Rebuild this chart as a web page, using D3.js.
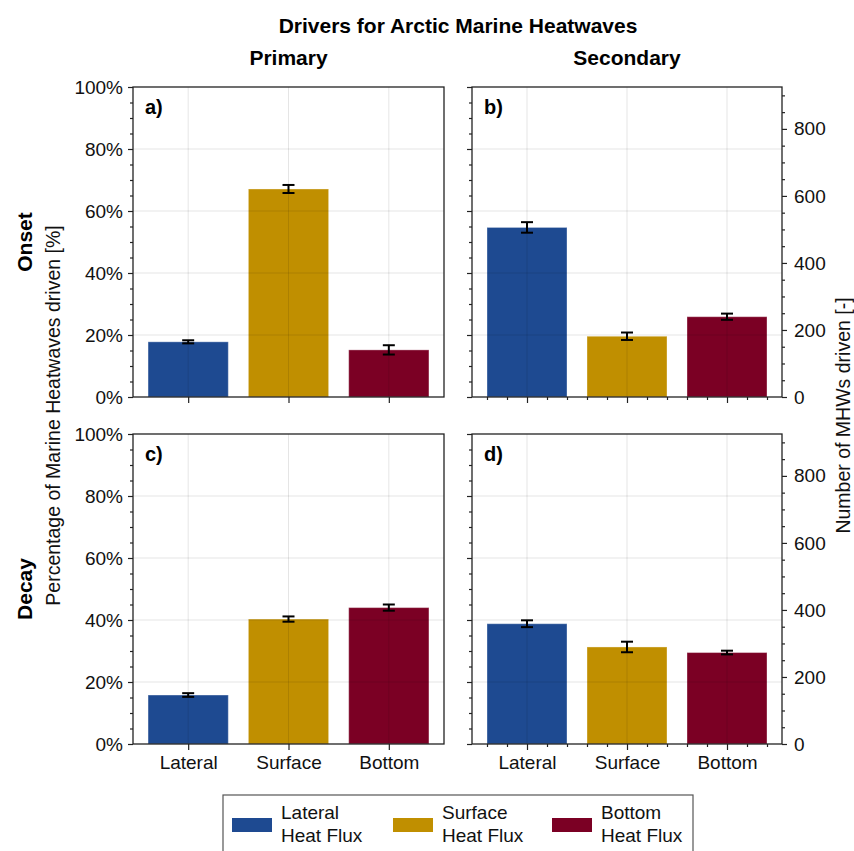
<!DOCTYPE html>
<html>
<head>
<meta charset="utf-8">
<script src="https://cdn.jsdelivr.net/npm/d3@7"></script>
<style>
  body { margin: 0; background: #fff; }
  svg { font-family: "Liberation Sans", Arial, Helvetica, sans-serif; }
  .tick text { font-size: 19px; fill: #111; font-family: "Liberation Sans", Arial, Helvetica, sans-serif; }
  .domain { display: none; }
</style>
</head>
<body>
<svg id="chart" width="854" height="851"></svg>
<script>
// values (percent of MHWs)
const categories = ["Lateral", "Surface", "Bottom"];
const legendLabels = [["Lateral", "Heat Flux"], ["Surface", "Heat Flux"], ["Bottom", "Heat Flux"]];
const colors = ["#1e4a91", "#c08f00", "#7b0024"];

const onsetPrimary = [17.8, 67.1, 15.2];
const onsetPrimaryErr = [0.5, 1.3, 1.5];
const onsetSecondary = [54.7, 19.6, 25.9];
const onsetSecondaryErr = [1.7, 1.2, 1.0];
const decayPrimary = [15.8, 40.3, 44.0];
const decayPrimaryErr = [0.6, 0.85, 1.0];
const decaySecondary = [38.8, 31.3, 29.5];
const decaySecondaryErr = [1.1, 1.7, 0.6];

const totalMHWs = 925;            // 100% on the right axis
const pctTicks = [0, 20, 40, 60, 80, 100];
const countTicks = [0, 200, 400, 600, 800];

const svg = d3.select('#chart');

const cols = [{x0: 133, x1: 444}, {x0: 472, x1: 782}];
const rows = [{y0: 87, y1: 397}, {y0: 434, y1: 744}];

const panels = [
  {label: 'a)', col: 0, row: 0, values: onsetPrimary, err: onsetPrimaryErr},
  {label: 'b)', col: 1, row: 0, values: onsetSecondary, err: onsetSecondaryErr},
  {label: 'c)', col: 0, row: 1, values: decayPrimary, err: decayPrimaryErr},
  {label: 'd)', col: 1, row: 1, values: decaySecondary, err: decaySecondaryErr}
];

panels.forEach(p => {
  const c = cols[p.col], r = rows[p.row];
  const xScale = d3.scaleLinear().domain([-0.55, 2.55]).range([c.x0, c.x1]);
  const yScale = d3.scaleLinear().domain([0, 100]).range([r.y1, r.y0]);
  const nScale = d3.scaleLinear().domain([0, totalMHWs]).range([r.y1, r.y0]);
  const g = svg.append('g');

  // bars
  g.selectAll('rect.bar')
    .data(p.values)
    .enter().append('rect')
      .attr('class', 'bar')
      .attr('x', (d, i) => xScale(i - 0.4))
      .attr('width', (d, i) => xScale(i + 0.4) - xScale(i - 0.4))
      .attr('y', d => yScale(d))
      .attr('height', d => yScale(0) - yScale(d))
      .attr('fill', (d, i) => colors[i])
      .attr('stroke', 'rgba(255,255,255,0.35)')
      .attr('stroke-width', 1);

  // grid on top
  g.selectAll('line.hgrid')
    .data(pctTicks.slice(1, -1))
    .enter().append('line')
      .attr('x1', c.x0).attr('x2', c.x1)
      .attr('y1', d => yScale(d)).attr('y2', d => yScale(d))
      .attr('stroke', 'rgba(0,0,0,0.1)');
  g.selectAll('line.vgrid')
    .data(categories)
    .enter().append('line')
      .attr('x1', (d, i) => xScale(i)).attr('x2', (d, i) => xScale(i))
      .attr('y1', r.y0).attr('y2', r.y1)
      .attr('stroke', 'rgba(0,0,0,0.1)');

  // error bars
  const eb = g.selectAll('g.err')
    .data(p.values)
    .enter().append('g')
      .attr('stroke', '#000')
      .attr('stroke-width', 2);
  eb.append('line')
    .attr('x1', (d, i) => xScale(i)).attr('x2', (d, i) => xScale(i))
    .attr('y1', (d, i) => yScale(d - p.err[i])).attr('y2', (d, i) => yScale(d + p.err[i]));
  eb.append('line')
    .attr('x1', (d, i) => xScale(i) - 6).attr('x2', (d, i) => xScale(i) + 6)
    .attr('y1', (d, i) => yScale(d - p.err[i])).attr('y2', (d, i) => yScale(d - p.err[i]));
  eb.append('line')
    .attr('x1', (d, i) => xScale(i) - 6).attr('x2', (d, i) => xScale(i) + 6)
    .attr('y1', (d, i) => yScale(d + p.err[i])).attr('y2', (d, i) => yScale(d + p.err[i]));

  // left axis
  const yAxis = d3.axisLeft(yScale).tickValues(pctTicks).tickSize(5).tickPadding(5)
    .tickFormat(p.col === 0 ? (d => d + '%') : '');
  g.append('g').attr('transform', `translate(${c.x0},0)`).call(yAxis);
  const yMinor = d3.axisLeft(yScale).tickValues(d3.range(5, 100, 5).filter(v => v % 20)).tickSize(3).tickFormat('');
  g.append('g').attr('transform', `translate(${c.x0},0)`).call(yMinor);

  // right axis (counts) on secondary column
  if (p.col === 1) {
    const nAxis = d3.axisRight(nScale).tickValues(countTicks).tickSize(5).tickPadding(7);
    g.append('g').attr('transform', `translate(${c.x1},0)`).call(nAxis);
    const nMinor = d3.axisRight(nScale).tickValues(d3.range(50, 925, 50).filter(v => v % 200)).tickSize(3).tickFormat('');
    g.append('g').attr('transform', `translate(${c.x1},0)`).call(nMinor);
  }

  // bottom axis
  const xAxis = d3.axisBottom(xScale).tickValues([0, 1, 2]).tickSize(6).tickPadding(6)
    .tickFormat(p.row === 1 ? (d => categories[d]) : '');
  g.append('g').attr('transform', `translate(0,${r.y1})`).call(xAxis);
  if (p.col === 1) {
    const xMinor = d3.axisBottom(xScale)
      .tickValues([-0.4, -0.2, 0.2, 0.4, 0.6, 0.8, 1.2, 1.4, 1.6, 1.8, 2.2, 2.4])
      .tickSize(3).tickFormat('');
    g.append('g').attr('transform', `translate(0,${r.y1})`).call(xMinor);
  }

  g.selectAll('.tick line').attr('stroke', '#222').attr('stroke-width', 1.2);

  // frame
  g.append('rect')
    .attr('x', c.x0).attr('y', r.y0)
    .attr('width', c.x1 - c.x0).attr('height', r.y1 - r.y0)
    .attr('fill', 'none').attr('stroke', '#222').attr('stroke-width', 1.3);

  g.append('text')
    .attr('x', c.x0 + 12).attr('y', r.y0 + 27)
    .attr('font-size', 20).attr('font-weight', 'bold')
    .text(p.label);
});

// titles
svg.append('text').attr('x', 458).attr('y', 33).attr('text-anchor', 'middle')
  .attr('font-size', 21).attr('font-weight', 'bold').text('Drivers for Arctic Marine Heatwaves');
svg.append('text').attr('x', (cols[0].x0 + cols[0].x1) / 2).attr('y', 65).attr('text-anchor', 'middle')
  .attr('font-size', 21).attr('font-weight', 'bold').text('Primary');
svg.append('text').attr('x', (cols[1].x0 + cols[1].x1) / 2).attr('y', 65).attr('text-anchor', 'middle')
  .attr('font-size', 21).attr('font-weight', 'bold').text('Secondary');

const rowNames = ['Onset', 'Decay'];
rows.forEach((r, i) => {
  svg.append('text')
    .attr('transform', `translate(32,${(r.y0 + r.y1) / 2}) rotate(-90)`)
    .attr('text-anchor', 'middle').attr('font-size', 21).attr('font-weight', 'bold')
    .text(rowNames[i]);
});

svg.append('text')
  .attr('transform', `translate(60,${(rows[0].y0 + rows[1].y1) / 2}) rotate(-90)`)
  .attr('text-anchor', 'middle').attr('font-size', 19.5).attr('fill', '#111')
  .text('Percentage of Marine Heatwaves driven [%]');
svg.append('text')
  .attr('transform', `translate(850,${(rows[0].y0 + rows[1].y1) / 2}) rotate(-90)`)
  .attr('text-anchor', 'middle').attr('font-size', 19.5).attr('fill', '#111')
  .text('Number of MHWs driven [-]');

// legend
const legend = svg.append('g');
legend.append('rect')
  .attr('x', 223).attr('y', 795).attr('width', 470).attr('height', 70)
  .attr('fill', '#fff').attr('stroke', '#555').attr('stroke-width', 1.2);
const legendX = [232, 393, 552];
const items = legend.selectAll('g.item')
  .data(legendLabels)
  .enter().append('g')
    .attr('transform', (d, i) => `translate(${legendX[i]},0)`);
items.append('rect')
  .attr('x', 0).attr('y', 818).attr('width', 40).attr('height', 14)
  .attr('fill', (d, i) => colors[i]);
items.append('text')
  .attr('x', 49).attr('y', 819).attr('font-size', 19).attr('fill', '#111')
  .text(d => d[0]);
items.append('text')
  .attr('x', 49).attr('y', 842).attr('font-size', 19).attr('fill', '#111')
  .text(d => d[1]);
</script>
</body>
</html>
